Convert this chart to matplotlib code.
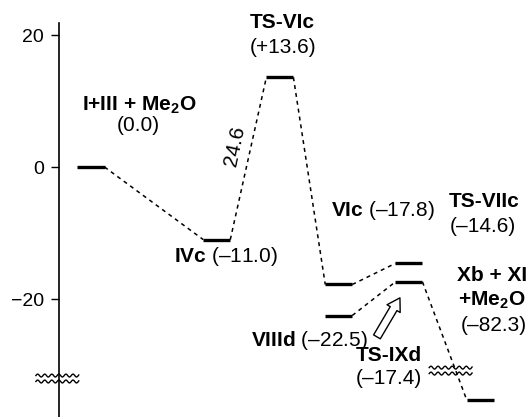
import numpy as np
import matplotlib
matplotlib.use("Agg")
import matplotlib.pyplot as plt
import matplotlib.transforms as mtransforms

plt.rcParams['font.family'] = ['Liberation Sans', 'DejaVu Sans']
plt.rcParams['mathtext.fontset'] = 'custom'
plt.rcParams['mathtext.rm'] = 'Liberation Sans'
plt.rcParams['mathtext.bf'] = 'Liberation Sans:bold'

# energy levels (kcal/mol)
names = ['I+III + Me$_\\mathbf{2}$O', 'IVc', 'TS-VIc', 'VIc', 'VIIId',
         'TS-VIIc', 'TS-IXd', 'Xb + XI\n+Me$_\\mathbf{2}$O']
values = ['(0.0)', '(–11.0)', '(+13.6)', '(–17.8)', '(–22.5)',
          '(–14.6)', '(–17.4)', '(–82.3)']
energies = [0.0, -11.0, 13.6, -17.8, -22.5, -14.6, -17.4, -82.3]
stage_x = [0.68, 3.35, 4.69, 5.94, 5.94, 7.43, 7.43, 8.94]
links = [(0, 1), (1, 2), (2, 3), (3, 5), (4, 6), (6, 7)]
barrier = '24.6'

yticks = [20, 0, -20]


def disp(e):
    # compress everything below the axis break
    if e >= -30:
        return e
    return -30 + (e + 30) * 0.1


fig = plt.figure(figsize=(5.3, 4.17), dpi=100)
ax = fig.add_axes([0.1113, 0.0, 0.8887, 0.9448])
ax.set_xlim(0, 10)
ax.set_ylim(-37.88, 21.82)

hw = 0.287
ys = [disp(e) for e in energies]
ax.hlines(ys, [x - hw for x in stage_x], [x + hw for x in stage_x],
          colors='black', linewidth=2.4)

for a, b in links:
    ax.plot([stage_x[a] + hw, stage_x[b] - hw], [ys[a], ys[b]],
            color='black', linewidth=1.1, dashes=(2.6, 2.6))

# labels placed relative to each level, offsets in pixels
def lab(i, txt, dx, dy, bold=False, ha='center'):
    ax.annotate(txt, (stage_x[i], ys[i]), xytext=(dx, dy),
                textcoords='offset pixels', ha=ha, va='center',
                fontsize=15, fontweight='bold' if bold else 'normal',
                linespacing=1.25)

lab(0, names[0], 48, 62, bold=True)
lab(0, values[0], 47, 42)
lab(2, names[2], 2, 55, bold=True)
lab(2, values[2], 3, 30)
lab(5, names[5], 75, 62, bold=True)
lab(5, values[5], 74, 37)
lab(6, names[6], -20, -74, bold=True)
lab(6, values[6], -20, -97)
lab(7, names[7], 12, 111, bold=True)
lab(7, values[7], 14, 74)

for i, dx, dy, ha in [(1, 9, -17, 'center'), (3, 44, 74, 'center'),
                      (4, 29, -25, 'right')]:
    ax.annotate(r'$\mathbf{' + names[i] + '}$' + ' ' + values[i],
                (stage_x[i], ys[i]), xytext=(dx, dy),
                textcoords='offset pixels', ha=ha, va='center', fontsize=15)

# barrier height along the rising line
mx = (stage_x[1] + hw + stage_x[2] - hw) / 2
my = (ys[1] + ys[2]) / 2
ax.annotate(barrier, (mx, my), xytext=(-14, 12), textcoords='offset pixels',
            ha='center', va='center', fontsize=15, rotation=78)

# hollow arrow pointing at TS-IXd
tip = mtransforms.offset_copy(ax.transData, fig=fig, x=-9, y=-16, units='dots')
ax.annotate('', xy=(stage_x[6], ys[6]), xycoords=tip,
            xytext=(-23, -39), textcoords='offset pixels',
            arrowprops=dict(arrowstyle='simple,head_length=0.45,head_width=0.55,tail_width=0.28',
                            fc='white', ec='black', lw=1.0, mutation_scale=20,
                            shrinkA=0, shrinkB=0))

# break marks
def wave(x0, x1, y0, clip):
    xx = np.linspace(x0, x1, 80)
    for off in (0.0, -0.9):
        ax.plot(xx, y0 + off + 0.22 * np.sin((xx - x0) / 0.15 * 2 * np.pi),
                color='black', linewidth=1.0, clip_on=clip)

wave(-0.49, 0.42, -31.6, False)
wave(7.86, 8.77, -30.4, True)

for s in ['top', 'right', 'bottom']:
    ax.spines[s].set_visible(False)
ax.spines['left'].set_linewidth(1.2)
ax.set_xticks([])
ax.set_yticks(yticks)
ax.set_yticklabels([str(t).replace('-', '\u2212') for t in yticks])
ax.tick_params(axis='y', direction='out', length=6, width=1, pad=5, labelsize=14)

fig.savefig('out.png', dpi=100)
